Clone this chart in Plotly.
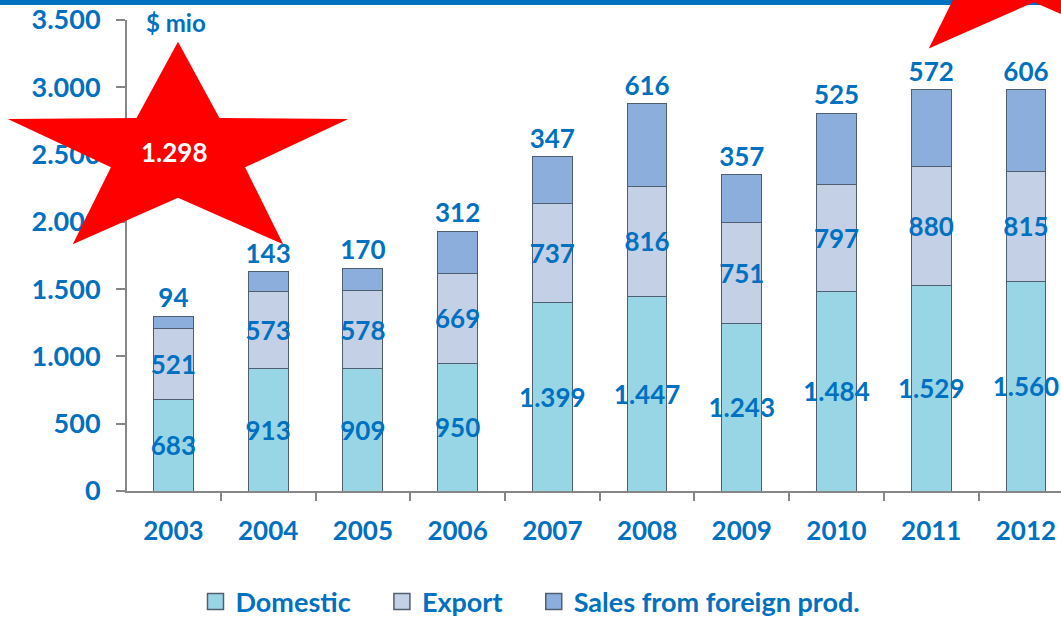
import math
import plotly.graph_objects as go

# ---- data ----
years = ["2003", "2004", "2005", "2006", "2007", "2008", "2009", "2010", "2011", "2012"]
domestic = [683, 913, 909, 950, 1399, 1447, 1243, 1484, 1529, 1560]
export = [521, 573, 578, 669, 737, 816, 751, 797, 880, 815]
foreign = [94, 143, 170, 312, 347, 616, 357, 525, 572, 606]
series_names = ["Domestic", "Export", "Sales from foreign prod."]
y_ticks = [0, 500, 1000, 1500, 2000, 2500, 3000, 3500]

# ---- style ----
W, H = 1061, 618
ML, MR, MT, MB = 127, 0, 20, 127
PW, PH = W - ML - MR, H - MT - MB
BLUE = "#0070C0"
GRAY = "#868686"
FONT = "Lato"
colors = ["#98D6E6", "#C3D0E6", "#8CAEDC"]
edge = "#4F5F70"
NB = "\u00a0"


def px2paper(px, py):
    return (px - ML) / PW, (MT + PH - py) / PH


def star_path(cx, cy, ry, rx, inner=0.394):
    pts = []
    for k in range(10):
        ang = math.radians(90 + 36 * k)
        r = 1.0 if k % 2 == 0 else inner
        x = cx + rx * r * math.cos(ang)
        y = cy - ry * r * math.sin(ang)
        pts.append(px2paper(x, y))
    return "M " + " L ".join(f"{x:.5f},{y:.5f}" for x, y in pts) + " Z"


fig = go.Figure()
vals = [domestic, export, foreign]
for i, (name, v) in enumerate(zip(series_names, vals)):
    fig.add_trace(go.Bar(
        x=years, y=v, name=name, width=0.42,
        marker=dict(color=colors[i], line=dict(color=edge, width=1)),
        texttemplate="%{y:,.0f}",
        textposition="outside" if i == 2 else "inside",
        insidetextanchor="middle",
        textangle=0,
        constraintext="none",
        textfont=dict(family=FONT, size=26, color=BLUE, weight="bold"),
        cliponaxis=False,
        showlegend=False,
        hoverinfo="skip",
    ))
# legend proxies
for i, name in enumerate(series_names):
    label = name + (NB * 4 if i < len(series_names) - 1 else "")
    fig.add_trace(go.Scatter(
        x=[None], y=[None], mode="markers", name=label,
        marker=dict(symbol="square", size=20, color=colors[i], line=dict(color=edge, width=1.5)),
    ))

total_2003 = domestic[0] + export[0] + foreign[0]
star_label = f"{total_2003:,}".replace(",", ".")

shapes = [
    dict(type="rect", xref="paper", yref="paper",
         x0=px2paper(0, 0)[0], x1=px2paper(W, 0)[0],
         y0=px2paper(0, 5)[1], y1=px2paper(0, -2)[1],
         fillcolor=BLUE, line=dict(width=0), layer="above"),
    dict(type="path", xref="paper", yref="paper", path=star_path(178, 153.7, 112, 179),
         fillcolor="#FF0000", line=dict(width=0), layer="above"),
    dict(type="path", xref="paper", yref="paper", path=star_path(1034, -42, 112, 179),
         fillcolor="#FF0000", line=dict(width=0), layer="above"),
]

sx, sy = px2paper(174, 152)
mx, my = px2paper(176, 22)
annotations = [
    dict(xref="paper", yref="paper", x=sx, y=sy, xanchor="center", yanchor="middle",
         text=star_label, showarrow=False,
         font=dict(family=FONT, size=26, color="white", weight="bold")),
    dict(xref="paper", yref="paper", x=mx, y=my, xanchor="center", yanchor="middle",
         text="$ mio", showarrow=False,
         font=dict(family=FONT, size=24, color=BLUE, weight="bold")),
]

fig.update_layout(
    width=W, height=H,
    margin=dict(l=ML, r=MR, t=MT, b=MB, pad=0),
    barmode="stack",
    separators=",.",
    paper_bgcolor="white", plot_bgcolor="white",
    font=dict(family=FONT, color=BLUE),
    shapes=shapes, annotations=annotations,
    legend=dict(orientation="h", xref="container", yref="container",
                x=0.5, xanchor="center", y=0.026, yanchor="middle",
                traceorder="normal", itemwidth=30,
                font=dict(family=FONT, size=27, color=BLUE, weight="bold")),
    xaxis=dict(type="category", categoryorder="array", categoryarray=years,
               range=[-0.49, 9.37], showline=True, linecolor=GRAY, linewidth=2,
               ticks="outside", tickson="boundaries", ticklen=8, tickcolor=GRAY, tickwidth=2,
               showgrid=False, ticklabelstandoff=16,
               tickfont=dict(family=FONT, size=26, color=BLUE, weight="bold")),
    yaxis=dict(range=[0, 3500], tickvals=y_ticks, tickformat=",.0f",
               showline=True, linecolor=GRAY, linewidth=2,
               ticks="outside", ticklen=9, tickcolor=GRAY, tickwidth=2,
               showgrid=False, zeroline=False, ticklabelstandoff=10,
               tickfont=dict(family=FONT, size=27, color=BLUE, weight="bold")),
)

fig.write_html("out.html", config={"displayModeBar": False},
               post_script="document.body.style.margin='0';document.body.style.overflow='hidden';")
